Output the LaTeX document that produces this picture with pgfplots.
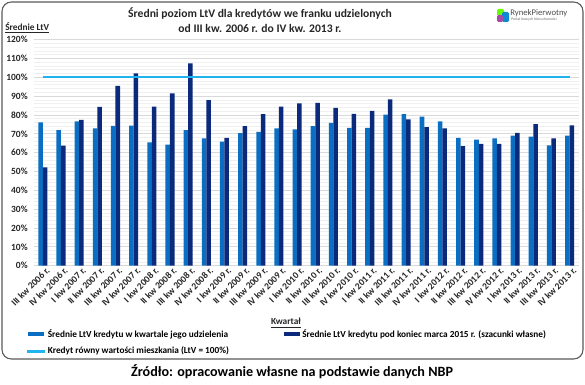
\documentclass[border=0pt]{standalone}
\usepackage{pgfplots}
\pgfplotsset{compat=1.18}
\usepackage{fontspec}
\setmainfont{Carlito}
\definecolor{lightbar}{HTML}{0A6FC2}
\definecolor{darkbar}{HTML}{0B2A7C}
\definecolor{cyanline}{HTML}{1FB4EE}
\definecolor{majgrid}{HTML}{D9D9D9}
\definecolor{mingrid}{HTML}{F0F0F0}
\pgfplotsset{ltvline/.style={legend image code/.code={\fill[cyanline] (0pt,-0.8pt) rectangle (12pt,0.8pt);}}}
\newcommand\px[2]{({#1*0.75pt},{(385-#2)*0.75pt})}
\begin{document}
\begin{tikzpicture}
\path[use as bounding box] (0,0) rectangle (438.75pt,288.75pt);
\draw[black!65, line width=0.8pt, rounded corners=7pt] \px{2}{2} rectangle \px{583}{359};
\begin{axis}[
  at={(25.3pt,89.475pt)}, anchor=south west,
  scale only axis, width=408.7pt, height=169.6pt,
  xmin=-0.5, xmax=29.5, ymin=0, ymax=120,
  xtick={0,...,29},
  xticklabels={{III kw 2006 r.},{IV kw 2006 r.},{I kw 2007 r.},{II kw 2007 r.},{III kw 2007 r.},{IV kw 2007 r.},{I kw 2008 r.},{II kw 2008 r.},{III kw 2008 r.},{IV kw 2008 r.},{I kw 2009 r.},{II kw 2009 r.},{III kw 2009 r.},{IV kw 2009 r.},{I kw 2010 r.},{II kw 2010 r.},{III kw 2010 r.},{IV kw 2010 r.},{I kw 2011 r.},{II kw 2011 r.},{III kw 2011 r.},{IV kw 2011 r.},{I kw 2012 r.},{II kw 2012 r.},{III kw 2012 r.},{IV kw 2012 r.},{I kw 2013 r.},{II kw 2013 r.},{III kw 2013 r.},{IV kw 2013 r.}},
  ytick={0,10,...,120},
  minor y tick num=4,
  yticklabel={\pgfmathprintnumber{\tick}\%},
  /pgf/number format/assume math mode=true,
  major tick length=0pt, minor tick length=0pt,
  ymajorgrids, yminorgrids,
  major grid style={majgrid, line width=0.6pt},
  minor grid style={mingrid, line width=0.5pt},
  axis line style={draw=none},
  tick label style={font=\bfseries\fontsize{7.1}{8}\selectfont, black!85},
  x tick label style={rotate=45, anchor=north east, inner sep=0.8pt, yshift=-1pt, xshift=2pt},
  y tick label style={xshift=-1pt},
  legend columns=2,
  legend style={at={(-0.012,-0.268)}, anchor=north west, draw=none, fill=none,
    font=\bfseries\fontsize{6.95}{8}\selectfont, inner sep=0pt,
    /tikz/every even column/.append style={column sep=39pt},
    row sep=2pt},
  legend cell align=left,
]
\addplot[ybar, bar width=3.4pt, bar shift=-1.7pt, fill=lightbar, draw=none,
  legend image code/.code={\fill[lightbar] (0pt,-1.7pt) rectangle (12pt,1.7pt);}]
coordinates {(0,76.1)(1,71.9)(2,76.6)(3,72.9)(4,74.2)(5,74.3)(6,65.5)(7,64.3)(8,71.9)(9,67.6)(10,65.9)(11,70.3)(12,71.0)(13,72.9)(14,72.4)(15,74.0)(16,75.8)(17,73.1)(18,73.1)(19,80.2)(20,80.4)(21,79.1)(22,76.6)(23,67.8)(24,66.9)(25,67.6)(26,69.0)(27,68.5)(28,63.9)(29,69.0)};
\addlegendentry{Średnie LtV kredytu w kwartale jego udzielenia}
\addplot[ybar, bar width=3.4pt, bar shift=1.7pt, fill=darkbar, draw=none,
  legend image code/.code={\fill[darkbar] (0pt,-1.7pt) rectangle (12pt,1.7pt);}]
coordinates {(0,52.2)(1,63.7)(2,77.4)(3,84.3)(4,95.4)(5,102.1)(6,84.4)(7,91.5)(8,107.3)(9,87.8)(10,67.8)(11,74.0)(12,80.4)(13,84.4)(14,86.2)(15,86.4)(16,83.7)(17,80.5)(18,82.1)(19,88.3)(20,77.7)(21,73.6)(22,72.9)(23,63.4)(24,64.6)(25,64.6)(26,70.5)(27,75.1)(28,67.6)(29,74.5)};
\addlegendentry{Średnie LtV kredytu pod koniec marca 2015 r. (szacunki własne)}
\addplot[color=cyanline, line width=1.3pt, mark=none, ltvline]
coordinates {(0,100) (29,100)};
\addlegendentry{Kredyt równy wartości mieszkania (LtV = 100\%)}
\end{axis}
\node[font=\bfseries\fontsize{8.7}{10}\selectfont, black!85] at \px{260}{14} {Średni poziom LtV dla kredytów we franku udzielonych};
\node[font=\bfseries\fontsize{8.7}{10}\selectfont, black!85] at \px{260}{28} {od III kw. 2006 r. do IV kw. 2013 r.};
\node[font=\bfseries\fontsize{7}{8}\selectfont, black!85, anchor=west, inner sep=0pt] at \px{5}{28} {\underline{Średnie LtV}};
\node[font=\bfseries\fontsize{7}{8}\selectfont, black!85, inner sep=0pt] at \px{286}{323} {\underline{Kwartał}};
\node[font=\bfseries\fontsize{10.6}{12}\selectfont, black] at \px{292}{372} {Źródło: opracowanie własne na podstawie danych NBP};
% logo
\fill[green!60!yellow, rounded corners=1pt] \px{497}{9} rectangle \px{504}{16};
\fill[cyan!70!blue, rounded corners=1pt] \px{502}{12} rectangle \px{509}{22};
\fill[violet!70, rounded corners=1pt] \px{497}{15} rectangle \px{503}{22};
\node[font=\fontsize{6.5}{7}\selectfont, black!70, anchor=west, inner sep=0pt] at \px{510}{13} {RynekPierwotny};
\node[font=\fontsize{2.8}{3}\selectfont, black!60, anchor=west, inner sep=0pt] at \px{511}{20} {Portal Nowych Nieruchomości};
\end{tikzpicture}
\end{document}
